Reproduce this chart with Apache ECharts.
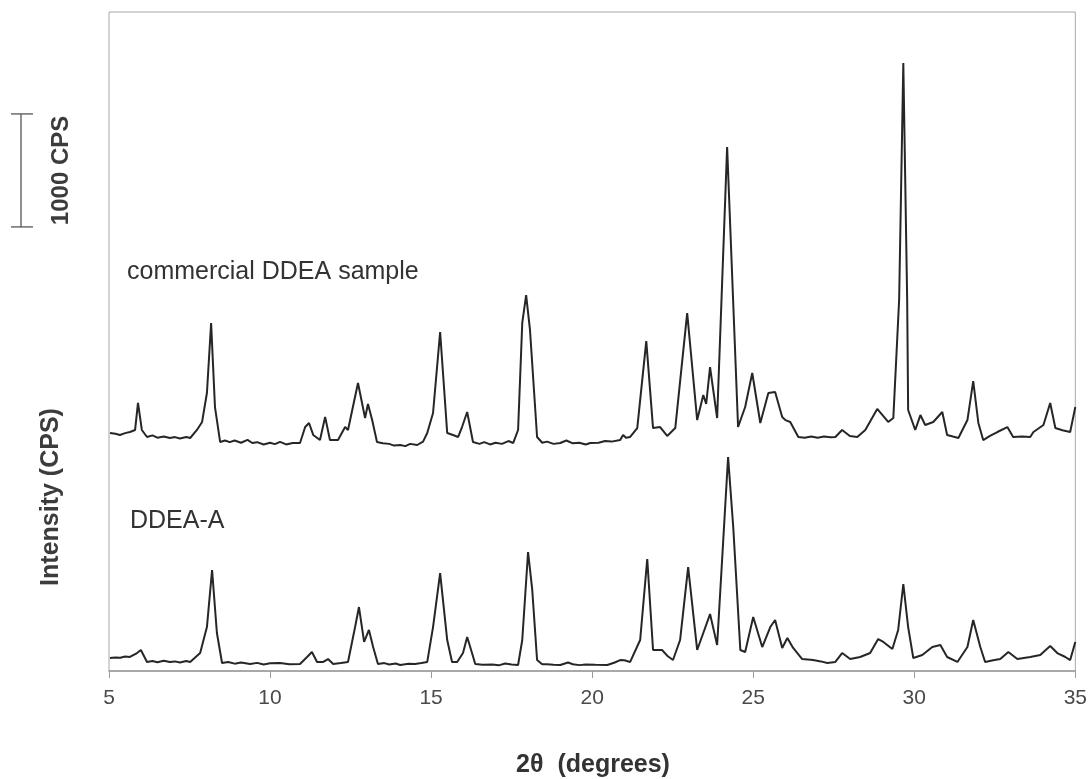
<!DOCTYPE html>
<html>
<head>
<meta charset="utf-8">
<title>XRD patterns</title>
<script src="https://cdn.jsdelivr.net/npm/echarts@6/dist/echarts.min.js"></script>
<style>
  html, body { margin: 0; padding: 0; background: #fff; }
  #chart { width: 1090px; height: 779px; }
</style>
</head>
<body>
<div id="chart"></div>
<script>
// 2θ positions (degrees) and intensities (CPS) for the commercial sample
const commercialTheta = [5.03, 5.20, 5.34, 5.50, 5.65, 5.81, 5.90, 6.02, 6.18, 6.35, 6.50, 6.70, 6.89, 7.05, 7.20, 7.40, 7.52, 7.73, 7.89, 8.04, 8.17, 8.29, 8.45, 8.60, 8.75, 8.90, 9.10, 9.30, 9.45, 9.60, 9.80, 10.00, 10.15, 10.31, 10.50, 10.70, 10.93, 11.09, 11.21, 11.34, 11.55, 11.71, 11.86, 12.11, 12.33, 12.42, 12.73, 12.95, 13.04, 13.17, 13.32, 13.50, 13.70, 13.85, 14.04, 14.20, 14.35, 14.57, 14.75, 14.88, 15.06, 15.28, 15.50, 15.68, 15.84, 15.96, 16.12, 16.30, 16.50, 16.65, 16.83, 17.00, 17.20, 17.40, 17.55, 17.70, 17.83, 17.95, 18.07, 18.29, 18.45, 18.60, 18.80, 19.01, 19.20, 19.40, 19.60, 19.80, 19.94, 20.20, 20.40, 20.60, 20.87, 20.96, 21.05, 21.18, 21.40, 21.68, 21.89, 22.11, 22.33, 22.58, 22.95, 23.26, 23.45, 23.54, 23.66, 23.88, 24.19, 24.53, 24.75, 24.97, 25.22, 25.47, 25.68, 25.90, 26.00, 26.15, 26.40, 26.60, 26.80, 27.00, 27.20, 27.40, 27.55, 27.76, 28.00, 28.23, 28.48, 28.85, 29.19, 29.35, 29.53, 29.66, 29.78, 29.81, 30.03, 30.19, 30.34, 30.59, 30.87, 31.02, 31.20, 31.37, 31.65, 31.83, 31.99, 32.14, 32.35, 32.58, 32.89, 33.07, 33.35, 33.60, 33.70, 34.01, 34.22, 34.38, 34.60, 34.84, 35.00];
const commercialCps = [206, 200, 189, 205, 215, 233, 472, 233, 171, 185, 165, 175, 162, 170, 158, 170, 162, 233, 304, 560, 1180, 436, 127, 140, 125, 140, 120, 145, 118, 125, 105, 120, 108, 128, 105, 118, 118, 259, 295, 189, 144, 348, 144, 144, 259, 233, 649, 339, 463, 321, 127, 115, 110, 95, 100, 90, 110, 100, 130, 206, 383, 1100, 206, 189, 171, 259, 392, 127, 110, 125, 105, 120, 110, 135, 118, 233, 1180, 1427, 1118, 171, 120, 130, 110, 118, 140, 115, 120, 105, 118, 120, 135, 130, 144, 189, 165, 171, 250, 1020, 250, 259, 180, 250, 1268, 321, 543, 463, 790, 339, 2737, 259, 436, 737, 295, 560, 569, 348, 320, 304, 171, 165, 175, 165, 175, 168, 171, 233, 180, 171, 233, 419, 304, 339, 1383, 3481, 1383, 410, 233, 365, 277, 304, 392, 189, 175, 162, 321, 666, 295, 144, 180, 215, 259, 171, 175, 171, 215, 277, 472, 250, 230, 215, 437];

// 2θ positions (degrees) and intensities (CPS) for DDEA-A
const ddeaATheta = [5.03, 5.20, 5.35, 5.50, 5.65, 5.87, 5.99, 6.18, 6.35, 6.50, 6.70, 6.89, 7.05, 7.20, 7.40, 7.52, 7.83, 8.04, 8.20, 8.35, 8.51, 8.70, 8.90, 9.10, 9.38, 9.60, 9.80, 10.00, 10.31, 10.60, 10.93, 11.15, 11.30, 11.46, 11.65, 11.80, 11.96, 12.20, 12.42, 12.64, 12.76, 12.92, 13.07, 13.20, 13.35, 13.55, 13.70, 13.90, 14.04, 14.30, 14.50, 14.70, 14.88, 15.06, 15.28, 15.50, 15.65, 15.81, 15.99, 16.12, 16.27, 16.37, 16.60, 16.90, 17.10, 17.30, 17.50, 17.70, 17.83, 18.01, 18.14, 18.29, 18.45, 18.60, 18.80, 19.01, 19.25, 19.40, 19.60, 19.80, 20.10, 20.47, 20.70, 20.87, 21.00, 21.18, 21.49, 21.71, 21.89, 22.17, 22.35, 22.51, 22.73, 22.98, 23.26, 23.45, 23.66, 23.88, 24.07, 24.22, 24.38, 24.60, 24.75, 25.00, 25.28, 25.53, 25.68, 25.90, 26.06, 26.24, 26.52, 26.86, 27.10, 27.30, 27.55, 27.76, 28.01, 28.32, 28.63, 28.88, 29.04, 29.32, 29.50, 29.66, 29.81, 29.97, 30.25, 30.56, 30.81, 31.02, 31.34, 31.65, 31.83, 32.05, 32.20, 32.45, 32.67, 32.92, 33.20, 33.40, 33.60, 33.91, 34.22, 34.44, 34.69, 34.84, 35.00];
const ddeaACps = [115, 120, 118, 128, 124, 159, 186, 80, 88, 78, 90, 80, 85, 75, 88, 80, 159, 389, 894, 336, 71, 80, 65, 75, 62, 72, 58, 68, 71, 60, 62, 124, 168, 80, 80, 106, 62, 70, 80, 389, 566, 257, 363, 212, 62, 70, 58, 66, 53, 65, 62, 70, 80, 389, 867, 274, 80, 80, 159, 301, 159, 62, 55, 58, 50, 66, 58, 53, 274, 1053, 717, 97, 60, 60, 55, 53, 75, 60, 52, 58, 55, 53, 75, 97, 95, 80, 274, 991, 186, 186, 130, 97, 274, 920, 186, 336, 504, 230, 1159, 1894, 1274, 186, 168, 478, 212, 389, 451, 204, 292, 204, 106, 97, 85, 71, 80, 159, 106, 124, 159, 283, 257, 195, 363, 770, 389, 115, 142, 212, 230, 124, 80, 212, 451, 212, 80, 95, 106, 168, 106, 115, 124, 142, 221, 159, 124, 97, 257];

// The commercial pattern is stacked above DDEA-A by this many CPS
const commercialOffset = 1900;
// Vertical scale bar: start value and length (CPS)
const scaleBarStart = 3930;
const scaleBarLength = 1000;

const xTicks = [5, 10, 15, 20, 25, 30, 35];

const commercialData = commercialTheta.map((t, i) => [t, commercialCps[i] + commercialOffset]);
const ddeaAData = ddeaATheta.map((t, i) => [t, ddeaACps[i]]);

const chart = echarts.init(document.getElementById('chart'), null, { renderer: 'canvas' });

const lineStyle = { color: '#262626', width: 2 };

chart.setOption({
  animation: false,
  backgroundColor: '#ffffff',
  grid: {
    left: 109, right: 13, top: 12, bottom: 108,
    show: true, borderColor: '#a8a8a8', borderWidth: 1, backgroundColor: 'transparent'
  },
  xAxis: {
    type: 'value',
    min: xTicks[0], max: xTicks[xTicks.length - 1], interval: 5,
    axisLine: { show: true, lineStyle: { color: '#9a9a9a', width: 1.5 } },
    axisTick: { show: true, inside: false, length: 7, lineStyle: { color: '#9a9a9a' } },
    splitLine: { show: false },
    axisLabel: {
      margin: 17, color: '#4a4a4a', fontSize: 21,
      fontFamily: '"Liberation Sans Narrow", "Liberation Sans", Arial, sans-serif'
    }
  },
  yAxis: {
    type: 'value', min: 0, max: 5832,
    show: false, splitLine: { show: false }
  },
  series: [
    {
      name: 'commercial DDEA sample', type: 'line', data: commercialData,
      showSymbol: false, symbol: 'none', lineStyle: lineStyle, z: 3
    },
    {
      name: 'DDEA-A', type: 'line', data: ddeaAData,
      showSymbol: false, symbol: 'none', lineStyle: lineStyle, z: 3
    }
  ]
});

// Scale bar, captions and axis titles placed with the chart's own y scale
const yTop = chart.convertToPixel({ yAxisIndex: 0 }, scaleBarStart + scaleBarLength);
const yBot = chart.convertToPixel({ yAxisIndex: 0 }, scaleBarStart);
const barX = 21;

chart.setOption({
  graphic: [
    { type: 'line', shape: { x1: barX, y1: yTop, x2: barX, y2: yBot }, style: { stroke: '#555', lineWidth: 1.3 } },
    { type: 'line', shape: { x1: barX - 10, y1: yTop, x2: barX + 12, y2: yTop }, style: { stroke: '#555', lineWidth: 1.3 } },
    { type: 'line', shape: { x1: barX - 10, y1: yBot, x2: barX + 12, y2: yBot }, style: { stroke: '#555', lineWidth: 1.3 } },
    {
      type: 'text', x: 61, y: (yTop + yBot) / 2, rotation: Math.PI / 2,
      style: { text: '1000 CPS', fill: '#3c3c3c', font: 'bold 24px "Liberation Sans", Arial, sans-serif', textAlign: 'center', textVerticalAlign: 'middle' }
    },
    {
      type: 'text', x: 51, y: 497, rotation: Math.PI / 2,
      style: { text: 'Intensity (CPS)', fill: '#3c3c3c', font: 'bold 25px "Liberation Sans", Arial, sans-serif', textAlign: 'center', textVerticalAlign: 'middle' }
    },
    {
      type: 'text', x: 127, y: 272,
      style: { text: 'commercial DDEA sample', fill: '#333', font: '25px "Liberation Sans", Arial, sans-serif', textAlign: 'left', textVerticalAlign: 'middle' }
    },
    {
      type: 'text', x: 130, y: 521,
      style: { text: 'DDEA-A', fill: '#333', font: '25px "Liberation Sans", Arial, sans-serif', textAlign: 'left', textVerticalAlign: 'middle' }
    },
    {
      type: 'text', x: 593, y: 765,
      style: { text: '2θ  (degrees)', fill: '#333', font: 'bold 25px "Liberation Sans", Arial, sans-serif', textAlign: 'center', textVerticalAlign: 'middle' }
    }
  ]
});
</script>
</body>
</html>
